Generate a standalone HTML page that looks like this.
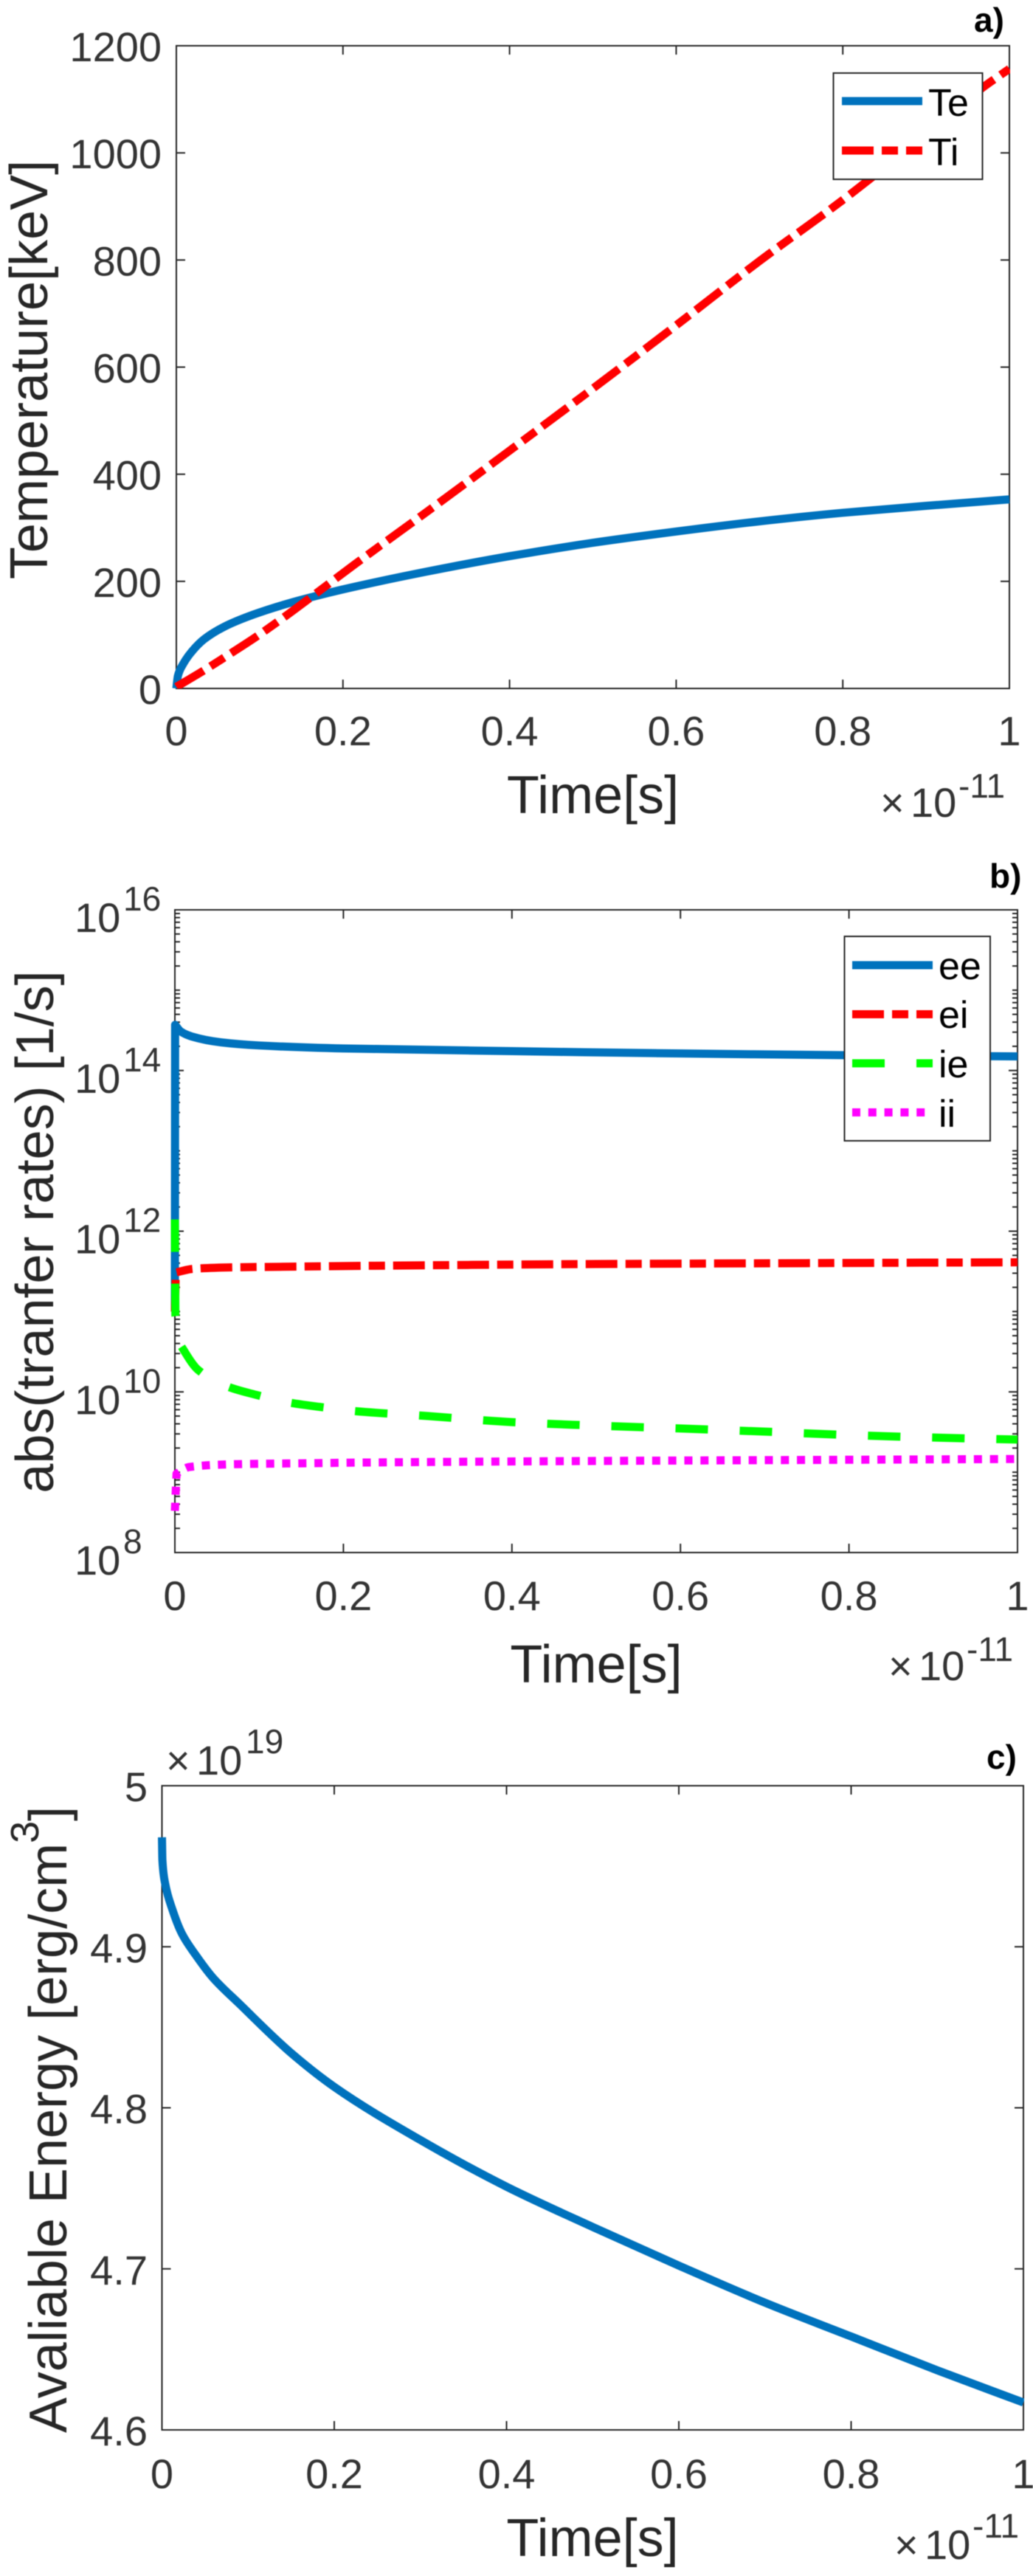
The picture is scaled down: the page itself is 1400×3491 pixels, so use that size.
<!DOCTYPE html>
<html lang="en">
<head>
<meta charset="utf-8">
<title>Temperature, transfer rates and available energy</title>
<style>
html,body{margin:0;padding:0;background:#fff;}
svg{display:block;font-family:"Liberation Sans",Arial,sans-serif;filter:blur(0.5px);}
.tick{font-size:56px;fill:#333;}
.sup{font-size:46px;fill:#333;}
.title{font-size:72px;fill:#262626;}
.leg{font-size:52px;fill:#000;}
.tag{font-size:46px;font-weight:bold;fill:#000;}
</style>
</head>
<body>
<svg id="figure" xmlns="http://www.w3.org/2000/svg" width="1400" height="3491" viewBox="0 0 1400 3491">
  <rect width="1400" height="3491" fill="#fff"/>
  <g id="panel-a"></g>
  <g id="panel-b"></g>
  <g id="panel-c"></g>

  <g id="static-a">
    <text class="tag" x="1320" y="43">a)</text>
    <text class="title" x="803.5" y="1102" text-anchor="middle">Time[s]</text>
    <text class="title" transform="translate(64 501) rotate(-90)" text-anchor="middle">Temperature[keV]</text>
    <text class="tick" x="1193" y="1107">×</text>
    <text class="tick" x="1234" y="1107">10</text>
    <text class="sup" x="1299" y="1081">-11</text>
    <g>
      <rect x="1129.5" y="99" width="202" height="144" fill="#fff" stroke="#262626" stroke-width="2"/>
      <line x1="1141" x2="1250" y1="137" y2="137" stroke="#0072BD" stroke-width="11"/>
      <line x1="1141" x2="1250" y1="204" y2="204" stroke="#ff0000" stroke-width="11" stroke-dasharray="43 11 22 11"/>
      <text class="leg" x="1258" y="157">Te</text>
      <text class="leg" x="1258" y="224">Ti</text>
    </g>
  </g>

  <g id="static-b">
    <text class="tag" x="1341" y="1203">b)</text>
    <text class="title" x="808" y="2280" text-anchor="middle">Time[s]</text>
    <text class="title" transform="translate(72 1669.5) rotate(-90)" text-anchor="middle">abs(tranfer rates) [1/s]</text>
    <text class="tick" x="1204" y="2277">×</text>
    <text class="tick" x="1245" y="2277">10</text>
    <text class="sup" x="1310" y="2251">-11</text>
    <g>
      <rect x="1144.5" y="1269" width="197.5" height="277" fill="#fff" stroke="#262626" stroke-width="2"/>
      <line x1="1155" x2="1264" y1="1308" y2="1308" stroke="#0072BD" stroke-width="11"/>
      <line x1="1155" x2="1264" y1="1374.5" y2="1374.5" stroke="#ff0000" stroke-width="11" stroke-dasharray="43 11 22 11"/>
      <line x1="1155" x2="1264" y1="1441" y2="1441" stroke="#00ff00" stroke-width="11" stroke-dasharray="44 43"/>
      <line x1="1155" x2="1254" y1="1507.5" y2="1507.5" stroke="#ff00ff" stroke-width="11" stroke-dasharray="11 10.8"/>
      <text class="leg" x="1272" y="1327">ee</text>
      <text class="leg" x="1272" y="1393">ei</text>
      <text class="leg" x="1272" y="1460">ie</text>
      <text class="leg" x="1272" y="1527">ii</text>
    </g>
  </g>

  <g id="static-c">
    <text class="tag" x="1337" y="2397">c)</text>
    <text class="title" x="803" y="3464" text-anchor="middle">Time[s]</text>
    <text class="title" transform="translate(90 3297) rotate(-90)">Avaliable Energy [erg/cm<tspan font-size="54" dy="-38">3</tspan><tspan dy="38">]</tspan></text>
    <text class="tick" x="1212" y="3468">×</text>
    <text class="tick" x="1253" y="3468">10</text>
    <text class="sup" x="1318" y="3439">-11</text>
    <text class="tick" x="225" y="2405">×</text>
    <text class="tick" x="266" y="2405">10</text>
    <text class="sup" x="333" y="2376">19</text>
  </g>
</svg>

<script>
// ---- Shared x axis (units of 1e-11 s) ----
const xTicks = [0, 0.2, 0.4, 0.6, 0.8, 1];
const xTickLabels = ['0', '0.2', '0.4', '0.6', '0.8', '1'];

// ---- Panel a: temperature ----
const aYTicks = [0, 200, 400, 600, 800, 1000, 1200];
const aYTickLabels = ['0', '200', '400', '600', '800', '1000', '1200'];
const teTime = [0, 0.0018, 0.0083, 0.0186, 0.0334, 0.0571, 0.0926, 0.137, 0.184, 0.2, 0.3, 0.4, 0.5, 0.6, 0.7, 0.8, 0.9, 1];
const teValues = [0, 23, 46, 69, 92, 115, 138, 160, 179, 185, 218, 247, 272, 293, 312, 328, 341, 353];
const tiTime = [0, 0.0334, 0.0658, 0.0954, 0.131, 0.1587, 0.2135, 0.3, 0.4, 0.5, 0.6, 0.7, 0.8, 0.9, 0.968, 1];
const tiValues = [3, 34, 66, 96, 135, 167, 231, 329, 444, 560, 678, 798, 912, 1035, 1122, 1157];

// ---- Panel b: transfer rates ----
const bYTickExponents = [8, 10, 12, 14, 16];
const bTimeEe = [0, 0.0003, 0.007, 0.02, 0.055, 0.1, 0.2, 0.4, 0.6, 0.8, 1];
const eeValues = [1e11, 3.7e14, 3.06e14, 2.65e14, 2.24e14, 2.05e14, 1.88e14, 1.74e14, 1.63e14, 1.55e14, 1.5e14];
const bTimeEi = [0, 0.0011, 0.022, 0.07, 0.145, 0.223, 0.5, 0.75, 1];
const eiValues = [1e11, 3.06e11, 3.4e11, 3.55e11, 3.62e11, 3.7e11, 3.9e11, 4.0e11, 4.1e11];
const bTimeIe = [0, 0.0006, 0.0053, 0.027, 0.061, 0.096, 0.134, 0.172, 0.21, 0.3, 0.4, 0.5, 0.6, 0.7, 0.8, 0.9, 1];
const ieValues = [1.4e12, 9e10, 4e10, 1.9e10, 1.18e10, 9.2e9, 7.4e9, 6.5e9, 5.8e9, 5e9, 4.2e9, 3.8e9, 3.5e9, 3.2e9, 2.9e9, 2.7e9, 2.55e9];
const bTimeIi = [0, 0.002, 0.017, 0.074, 0.15, 0.227, 0.5, 0.75, 1];
const iiValues = [3.3e8, 9.6e8, 1.16e9, 1.26e9, 1.29e9, 1.32e9, 1.38e9, 1.42e9, 1.46e9];

// ---- Panel c: available energy (units of 1e19 erg/cm^3) ----
const cYTicks = [4.6, 4.7, 4.8, 4.9, 5];
const cYTickLabels = ['4.6', '4.7', '4.8', '4.9', '5'];
const energyTime = [0, 0.0005, 0.0038, 0.0118, 0.0233, 0.039, 0.0588, 0.09, 0.15, 0.2, 0.3, 0.4, 0.5, 0.6, 0.7, 0.8, 0.9, 1];
const energyValues = [4.968, 4.954, 4.939, 4.9236, 4.908, 4.895, 4.881, 4.8645, 4.834, 4.813, 4.78, 4.751, 4.726, 4.702, 4.679, 4.658, 4.637, 4.617];

const SVG_NS = 'http://www.w3.org/2000/svg';
const AXIS_COLOR = '#262626';

function linearScale(d0, d1, r0, r1) {
  return function (v) { return r0 + (v - d0) / (d1 - d0) * (r1 - r0); };
}
function logScale(e0, e1, r0, r1) {
  return function (v) { return r0 + (Math.log10(v) - e0) / (e1 - e0) * (r1 - r0); };
}
function addLine(parent, name, x1, y1, x2, y2, width) {
  const el = document.createElementNS(SVG_NS, 'line');
  el.setAttribute('x1', x1);
  el.setAttribute('y1', y1);
  el.setAttribute('x2', x2);
  el.setAttribute('y2', y2);
  el.setAttribute('stroke', AXIS_COLOR);
  el.setAttribute('stroke-width', width);
  
  
  parent.appendChild(el);
  return el;
}
function addText(parent, name, cls, x, y, anchor, content) {
  const el = document.createElementNS(SVG_NS, 'text');
  el.setAttribute('class', cls);
  el.setAttribute('x', x);
  el.setAttribute('y', y);
  el.setAttribute('text-anchor', anchor);
  
  
  el.textContent = content;
  parent.appendChild(el);
  return el;
}
function addBox(parent, box) {
  const el = document.createElementNS(SVG_NS, 'rect');
  el.setAttribute('x', box.left);
  el.setAttribute('y', box.top);
  el.setAttribute('width', box.right - box.left);
  el.setAttribute('height', box.bottom - box.top);
  el.setAttribute('fill', 'none');
  el.setAttribute('stroke', AXIS_COLOR);
  el.setAttribute('stroke-width', 2);
  
  
  parent.appendChild(el);
}
function addClip(parent, id, box) {
  const clip = document.createElementNS(SVG_NS, 'clipPath');
  clip.setAttribute('id', id);
  const r = document.createElementNS(SVG_NS, 'rect');
  r.setAttribute('x', box.left - 20);
  r.setAttribute('y', box.top - 20);
  r.setAttribute('width', box.right - box.left + 21);
  r.setAttribute('height', box.bottom - box.top + 20);
  clip.appendChild(r);
  parent.appendChild(clip);
}
// Monotone cubic path through the points; the first `straightCount` segments stay straight.
function curvePath(px, py, straightCount) {
  let d = 'M' + px[0].toFixed(2) + ' ' + py[0].toFixed(2);
  for (let i = 1; i <= straightCount; i++) {
    d += 'L' + px[i].toFixed(2) + ' ' + py[i].toFixed(2);
  }
  const s = straightCount;
  const n = px.length;
  const slope = [];
  for (let i = s; i < n - 1; i++) {
    slope[i] = (py[i + 1] - py[i]) / (px[i + 1] - px[i]);
  }
  const tan = [];
  tan[s] = slope[s];
  tan[n - 1] = slope[n - 2];
  for (let i = s + 1; i < n - 1; i++) {
    if (slope[i - 1] * slope[i] <= 0) {
      tan[i] = 0;
    } else {
      const h0 = px[i] - px[i - 1];
      const h1 = px[i + 1] - px[i];
      const w0 = 2 * h1 + h0;
      const w1 = h1 + 2 * h0;
      tan[i] = (w0 + w1) / (w0 / slope[i - 1] + w1 / slope[i]);
    }
  }
  for (let i = s; i < n - 1; i++) {
    const h = (px[i + 1] - px[i]) / 3;
    d += 'C' + (px[i] + h).toFixed(2) + ' ' + (py[i] + tan[i] * h).toFixed(2) + ' ' +
      (px[i + 1] - h).toFixed(2) + ' ' + (py[i + 1] - tan[i + 1] * h).toFixed(2) + ' ' +
      px[i + 1].toFixed(2) + ' ' + py[i + 1].toFixed(2);
  }
  return d;
}
function addSeries(parent, name, times, values, xs, ys, color, dash, clipId, straightCount) {
  const el = document.createElementNS(SVG_NS, 'path');
  el.setAttribute('d', curvePath(times.map(xs), values.map(ys), straightCount));
  el.setAttribute('fill', 'none');
  el.setAttribute('stroke', color);
  el.setAttribute('stroke-width', 11);
  el.setAttribute('stroke-linejoin', 'round');
  if (dash) el.setAttribute('stroke-dasharray', dash);
  el.setAttribute('clip-path', 'url(#' + clipId + ')');
  
  
  parent.appendChild(el);
}
function drawXAxis(parent, box, xs, labelY) {
  xTicks.forEach(function (t, i) {
    const x = xs(t);
    if (i > 0 && i < xTicks.length - 1) {
      addLine(parent, 'x-tick-bottom', x, box.bottom, x, box.bottom - 12, 2);
      addLine(parent, 'x-tick-top', x, box.top, x, box.top + 12, 2);
    }
    addText(parent, 'x-tick-label', 'tick', x, labelY, 'middle', xTickLabels[i]);
  });
}
function drawLinearYAxis(parent, box, ys, ticks, labels, labelX) {
  ticks.forEach(function (v, i) {
    const y = ys(v);
    if (i > 0 && i < ticks.length - 1) {
      addLine(parent, 'y-tick-left', box.left, y, box.left + 12, y, 2);
      addLine(parent, 'y-tick-right', box.right, y, box.right - 12, y, 2);
    }
    addText(parent, 'y-tick-label', 'tick', labelX, y + 21, 'end', labels[i]);
  });
}
function drawLogYAxis(parent, box, ys, exponents) {
  const first = exponents[0];
  const last = exponents[exponents.length - 1];
  for (let e = first; e < last; e++) {
    for (let k = 1; k <= 9; k++) {
      if (k === 1 && (e - first) % 2 === 0) continue;
      const y = ys(k * Math.pow(10, e));
      addLine(parent, 'y-minor-tick-left', box.left, y, box.left + 7, y, 2);
      addLine(parent, 'y-minor-tick-right', box.right, y, box.right - 7, y, 2);
    }
  }
  exponents.forEach(function (e) {
    const y = ys(Math.pow(10, e));
    if (e !== first && e !== last) {
      addLine(parent, 'y-tick-left', box.left, y, box.left + 12, y, 2);
      addLine(parent, 'y-tick-right', box.right, y, box.right - 12, y, 2);
    }
    addText(parent, 'y-tick-label-base', 'tick', 101, y + 30, 'start', '10');
    addText(parent, 'y-tick-label-exponent', 'sup', 167, y + 1, 'start', String(e));
  });
}

// Panel a
(function () {
  const box = { left: 239, right: 1368, top: 62, bottom: 933 };
  const g = document.getElementById('panel-a');
  const xs = linearScale(0, 1, box.left, box.right);
  const ys = linearScale(0, 1200, box.bottom, box.top);
  addClip(g, 'clip-a', box);
  addBox(g, box);
  drawXAxis(g, box, xs, 1010);
  drawLinearYAxis(g, box, ys, aYTicks, aYTickLabels, 219);
  addSeries(g, 'series-te', teTime, teValues, xs, ys, '#0072BD', null, 'clip-a', 0);
  addSeries(g, 'series-ti', tiTime, tiValues, xs, ys, '#ff0000', '43 11 22 11', 'clip-a', 0);
})();

// Panel b
(function () {
  const box = { left: 237, right: 1379, top: 1233, bottom: 2104 };
  const g = document.getElementById('panel-b');
  const xs = linearScale(0, 1, box.left, box.right);
  const ys = logScale(8, 16, box.bottom, box.top);
  addClip(g, 'clip-b', box);
  addBox(g, box);
  drawXAxis(g, box, xs, 2182);
  drawLogYAxis(g, box, ys, bYTickExponents);
  addSeries(g, 'series-ee', bTimeEe, eeValues, xs, ys, '#0072BD', null, 'clip-b', 1);
  addSeries(g, 'series-ei', bTimeEi, eiValues, xs, ys, '#ff0000', '43 11 22 11', 'clip-b', 1);
  addSeries(g, 'series-ie', bTimeIe, ieValues, xs, ys, '#00ff00', '44 43', 'clip-b', 2);
  addSeries(g, 'series-ii', bTimeIi, iiValues, xs, ys, '#ff00ff', '11 10.8', 'clip-b', 1);
})();

// Panel c
(function () {
  const box = { left: 219.5, right: 1387, top: 2420, bottom: 3293 };
  const g = document.getElementById('panel-c');
  const xs = linearScale(0, 1, box.left, box.right);
  const ys = linearScale(4.6, 5, box.bottom, box.top);
  addClip(g, 'clip-c', box);
  addBox(g, box);
  drawXAxis(g, box, xs, 3372);
  drawLinearYAxis(g, box, ys, cYTicks, cYTickLabels, 200);
  addSeries(g, 'series-energy', energyTime, energyValues, xs, ys, '#0072BD', null, 'clip-c', 0);
})();
</script>
</body>
</html>
